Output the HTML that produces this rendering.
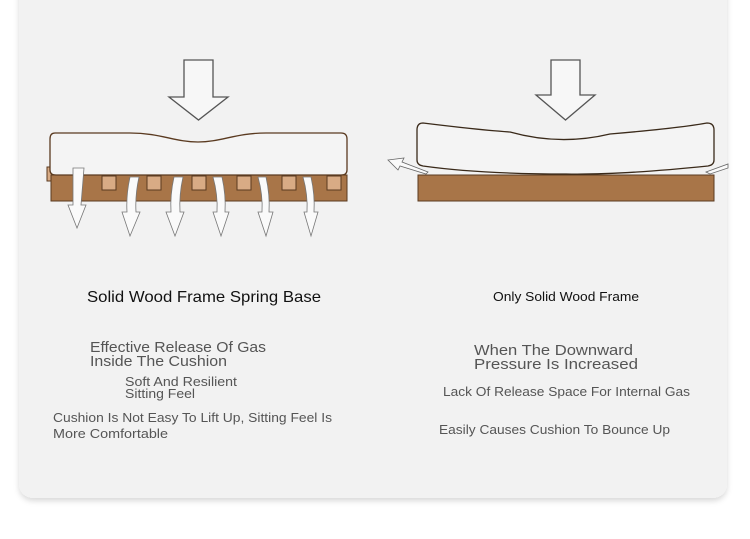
<!DOCTYPE html>
<html><head><style>
html,body{margin:0;padding:0;background:#fff;width:750px;height:539px;overflow:hidden}
</style></head><body>
<svg width="750" height="539" viewBox="0 0 750 539" xmlns="http://www.w3.org/2000/svg" font-family="Liberation Sans, sans-serif">
<defs><filter id="sh" x="-5%" y="-5%" width="110%" height="115%"><feDropShadow dx="0" dy="3" stdDeviation="3" flood-color="#000" flood-opacity="0.15"/></filter></defs>
<rect x="19" y="-20" width="708" height="518" rx="14" fill="#f2f2f2" filter="url(#sh)"/>
<!-- left diagram -->
<path d="M184 60H213V97H228L198.5 120L169 97H184Z" fill="#f7f7f7" stroke="#555" stroke-width="1.3"/>
<rect x="47" y="167" width="16" height="14" fill="#d8ab85" stroke="#5a3a20"/>
<rect x="51" y="175" width="296" height="26" fill="#a87548" stroke="#5a3a20"/>
<g fill="#d8ab85" stroke="#5a3a20">
<rect x="102" y="176" width="14" height="14"/><rect x="147" y="176" width="14" height="14"/><rect x="192" y="176" width="14" height="14"/><rect x="237" y="176" width="14" height="14"/><rect x="282" y="176" width="14" height="14"/><rect x="327" y="176" width="14" height="14"/>
</g>
<path d="M55 133H130C160 133 175 142 198 142C221 142 236 133 266 133H341Q347 133 347 139V170Q347 175 341 175H56Q50 175 50 170V139Q50 133 55 133Z" fill="#f4f4f4" stroke="#5a3a20" stroke-width="1.3"/>
<g fill="#fafafa" stroke="#777" stroke-width="0.8">
<path d="M73 168H84L81 205H86L77 228L68 205H73Z"/>
<path d="M130 177H139Q135 195 136 212H140L130 236L122 212H127Q126 195 130 177Z"/>
<path d="M174 177H183Q179 195 180 212H184L175 236L166 212H171Q170 195 174 177Z"/>
<path d="M213 177H222Q226 195 225 212H229L221 236L213 212H217Q218 195 213 177Z"/>
<path d="M258 177H266Q270 195 269 212H273L266 236L258 212H262Q263 195 258 177Z"/>
<path d="M303 177H311Q315 195 314 212H318L311 236L304 212H307Q308 195 303 177Z"/>
</g>
<!-- right diagram -->
<path d="M551 60H580V95H595L565.5 120L536 95H551Z" fill="#f7f7f7" stroke="#555" stroke-width="1.3"/>
<rect x="418" y="175" width="296" height="26" fill="#a87548" stroke="#5a3a20"/>
<path d="M423 123Q480 130 510 132Q560 146 610 134Q680 128 707 123Q714 123 714 130V160Q714 165 708 166Q620 175 566 174Q480 174 423 166Q417 165 417 160V130Q417 123 423 123Z" fill="#f4f4f4" stroke="#3a2a1a" stroke-width="1.3"/>
<path d="M428 172L402 162L404 158L388 160L398 170L400 166L426 174Z" fill="#fafafa" stroke="#666" stroke-width="0.8"/>
<path d="M706 172L728 164L728 168L710 174Z" fill="#fafafa" stroke="#666" stroke-width="0.8"/>
<!-- text -->
<text x="87" y="302" font-size="16" fill="#111" textLength="234" lengthAdjust="spacingAndGlyphs">Solid Wood Frame Spring Base</text>
<g fill="#555">
<text x="90" y="352" font-size="15" textLength="176" lengthAdjust="spacingAndGlyphs">Effective Release Of Gas</text>
<text x="90" y="366" font-size="15" textLength="137" lengthAdjust="spacingAndGlyphs">Inside The Cushion</text>
<text x="125" y="386" font-size="13" textLength="112" lengthAdjust="spacingAndGlyphs">Soft And Resilient</text>
<text x="125" y="398" font-size="13" textLength="70" lengthAdjust="spacingAndGlyphs">Sitting Feel</text>
<text x="53" y="422" font-size="13" textLength="279" lengthAdjust="spacingAndGlyphs">Cushion Is Not Easy To Lift Up, Sitting Feel Is</text>
<text x="53" y="438" font-size="13" textLength="115" lengthAdjust="spacingAndGlyphs">More Comfortable</text>
<text x="474" y="355" font-size="15" textLength="159" lengthAdjust="spacingAndGlyphs">When The Downward</text>
<text x="474" y="369" font-size="15" textLength="164" lengthAdjust="spacingAndGlyphs">Pressure Is Increased</text>
<text x="443" y="396" font-size="13" textLength="247" lengthAdjust="spacingAndGlyphs">Lack Of Release Space For Internal Gas</text>
<text x="439" y="434" font-size="13" textLength="231" lengthAdjust="spacingAndGlyphs">Easily Causes Cushion To Bounce Up</text>
</g>
<text x="493" y="301" font-size="13" fill="#111" textLength="146" lengthAdjust="spacingAndGlyphs">Only Solid Wood Frame</text>
</svg>
</body></html>
